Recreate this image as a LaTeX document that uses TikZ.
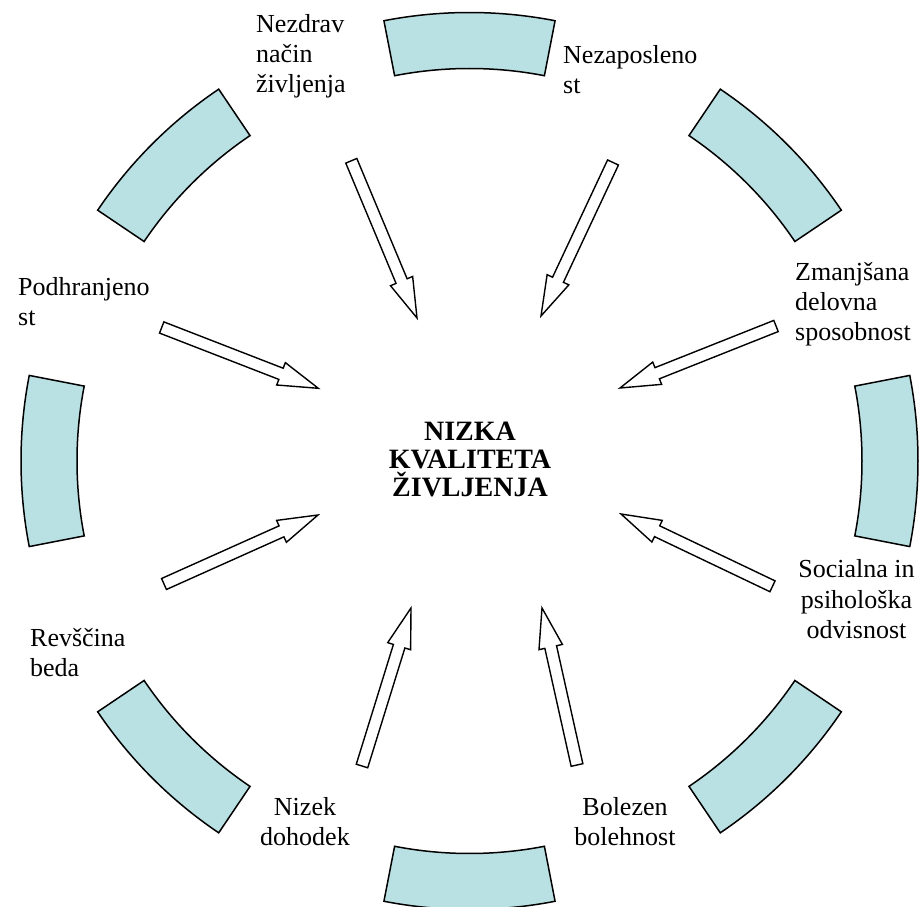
\documentclass[tikz,border=0pt]{standalone}
\usepackage{fontspec}
\setmainfont{Liberation Serif}
\usetikzlibrary{calc}
\definecolor{ringfill}{RGB}{185,224,227}
\tikzset{
 seg/.style={fill=ringfill, draw=black, line width=1.5pt, line join=miter},
 blockarr/.style={draw=black, fill=white, line width=1.4pt, line join=miter},
 lbl/.style={inner sep=0pt, font=\fontsize{26}{30.3}\selectfont, align=left, anchor=north west},
 lblc/.style={inner sep=0pt, font=\fontsize{26}{30.3}\selectfont, align=center, anchor=north},
 titletext/.style={inner sep=0pt, font=\fontsize{28}{28.3}\selectfont\bfseries, align=center, anchor=north}
}
\newcommand\ringseg[1]{%
 \draw[seg] ([shift={(c)}]#1-11:448.5) arc[start angle=#1-11, end angle=#1+11, radius=448.5]
   -- ([shift={(c)}]#1+11:392.5) arc[start angle=#1+11, end angle=#1-11, radius=392.5] -- cycle;}
\newcommand\blockarrow[2]{%
 \coordinate (#1-h) at ($(#2)!40pt!(#1)$);
 \draw[blockarr] ($(#1)!6pt!90:(#2)$) -- ($(#1-h)!6pt!90:(#2)$) -- ($(#1-h)!12pt!90:(#2)$) -- (#2)
   -- ($(#1-h)!12pt!-90:(#2)$) -- ($(#1-h)!6pt!-90:(#2)$) -- ($(#1)!6pt!-90:(#2)$) -- cycle;}
\begin{document}
\begin{tikzpicture}[x=1pt,y=1pt]
\useasboundingbox (0,0) rectangle (919,906);
\coordinate (c) at (469.5,445);
\foreach \a in {0,45,...,315} {\ringseg{\a}}

\node[titletext] (title) at (470,484.3) {NIZKA\\KVALITETA\\ŽIVLJENJA};

\node[lbl] (l1) at (256,892) {Nezdrav\\način\\življenja};
\node[lbl] (l2) at (563,861) {Nezaposleno\\st};
\node[lbl] (l3) at (18,629) {Podhranjeno\\st};
\node[lbl] (l4) at (795,644) {Zmanjšana\\delovna\\sposobnost};
\node[lblc] (l5) at (856.5,346.5) {Socialna in\\psihološka\\odvisnost};
\node[lbl] (l6) at (30,278) {Revščina\\beda};
\node[lblc] (l7) at (305,109) {Nizek\\dohodek};
\node[lblc] (l8) at (625,109) {Bolezen\\bolehnost};

\coordinate (t1) at (351.3,745.2); \coordinate (p1) at (417,588);
\coordinate (t2) at (613,743.5);   \coordinate (p2) at (541,590);
\coordinate (t3) at (161.7,578.5); \coordinate (p3) at (318.3,517.7);
\coordinate (t4) at (776,580);     \coordinate (p4) at (620,518);
\coordinate (t5) at (772.5,319.7); \coordinate (p5) at (621,392);
\coordinate (t6) at (164,322);     \coordinate (p6) at (318,391);
\coordinate (t7) at (362,140);     \coordinate (p7) at (411,298);
\coordinate (t8) at (577,141);     \coordinate (p8) at (542,298);
\foreach \i in {1,...,8} {\blockarrow{t\i}{p\i}}
\end{tikzpicture}
\end{document}
